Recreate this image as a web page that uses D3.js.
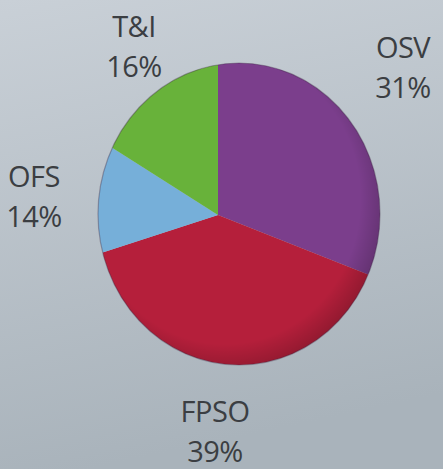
<!DOCTYPE html>
<html>
<head>
<meta charset="utf-8">
<script src="https://cdn.jsdelivr.net/npm/d3@7"></script>
<style>
  html, body { margin: 0; padding: 0; }
  body { width: 443px; height: 469px; overflow: hidden; }
</style>
</head>
<body>
<div id="chart"></div>
<script>
const categories = ['OSV', 'FPSO', 'OFS', 'T&I'];
const shares = [31, 39, 14, 16];
const colors = ['#7b3e8c', '#b51f3b', '#76afd9', '#68b23a'];
// label anchor (centre x, baseline of the name line)
const labelPos = [[403, 58], [215, 422], [34, 187], [134, 37]];

const width = 443;
const height = 469;

const svg = d3
  .select('#chart')
  .append('svg')
  .attr('width', width)
  .attr('height', height);

const defs = svg.append('defs');

// background gradient
const bg = defs
  .append('linearGradient')
  .attr('id', 'bg')
  .attr('x1', 0)
  .attr('y1', 0)
  .attr('x2', 0.2)
  .attr('y2', 1);
bg.append('stop').attr('offset', '0%').attr('stop-color', '#c9d0d7');
bg.append('stop').attr('offset', '100%').attr('stop-color', '#a9b3bb');

svg
  .append('rect')
  .attr('width', width)
  .attr('height', height)
  .attr('fill', 'url(#bg)');

// the disc is seen slightly tilted: outline is an ellipse, vertex is off centre
const disc = {cx: 239, cy: 214, rx: 141, ry: 151};
const vertex = [218, 215];

defs
  .append('clipPath')
  .attr('id', 'disc')
  .append('ellipse')
  .attr('cx', disc.cx)
  .attr('cy', disc.cy)
  .attr('rx', disc.rx)
  .attr('ry', disc.ry);

const pie = d3.pie().sort(null).value((d) => d)(shares);
const arc = d3.arc().innerRadius(0).outerRadius(260);

const g = svg.append('g').attr('clip-path', 'url(#disc)');

g.append('g')
  .attr('transform', `translate(${vertex[0]},${vertex[1]})`)
  .selectAll('path')
  .data(pie)
  .join('path')
  .attr('d', arc)
  .attr('fill', (d, i) => colors[i]);

// soft shading rim
const rim = defs
  .append('radialGradient')
  .attr('id', 'rim')
  .attr('cx', 0.45)
  .attr('cy', 0.45)
  .attr('r', 0.6);
rim.append('stop').attr('offset', '80%').attr('stop-color', '#000').attr('stop-opacity', 0);
rim.append('stop').attr('offset', '100%').attr('stop-color', '#000').attr('stop-opacity', 0.25);

g.append('ellipse')
  .attr('cx', disc.cx)
  .attr('cy', disc.cy)
  .attr('rx', disc.rx)
  .attr('ry', disc.ry)
  .attr('fill', 'url(#rim)');

svg
  .append('ellipse')
  .attr('cx', disc.cx)
  .attr('cy', disc.cy)
  .attr('rx', disc.rx)
  .attr('ry', disc.ry)
  .attr('fill', 'none')
  .attr('stroke', '#3a2440')
  .attr('stroke-opacity', 0.35)
  .attr('stroke-width', 1.2);

// labels
const labels = svg
  .selectAll('.label')
  .data(categories)
  .join('text')
  .attr('class', 'label')
  .attr('text-anchor', 'middle')
  .style('font-family', '"Open Sans", sans-serif')
  .style('font-size', '29px')
  .style('letter-spacing', '-0.5px')
  .attr('fill', '#3b3e42');

labels
  .append('tspan')
  .attr('x', (d, i) => labelPos[i][0])
  .attr('y', (d, i) => labelPos[i][1])
  .text((d) => d);

labels
  .append('tspan')
  .attr('x', (d, i) => labelPos[i][0])
  .attr('y', (d, i) => labelPos[i][1] + 40)
  .text((d, i) => `${shares[i]}%`);
</script>
</body>
</html>
